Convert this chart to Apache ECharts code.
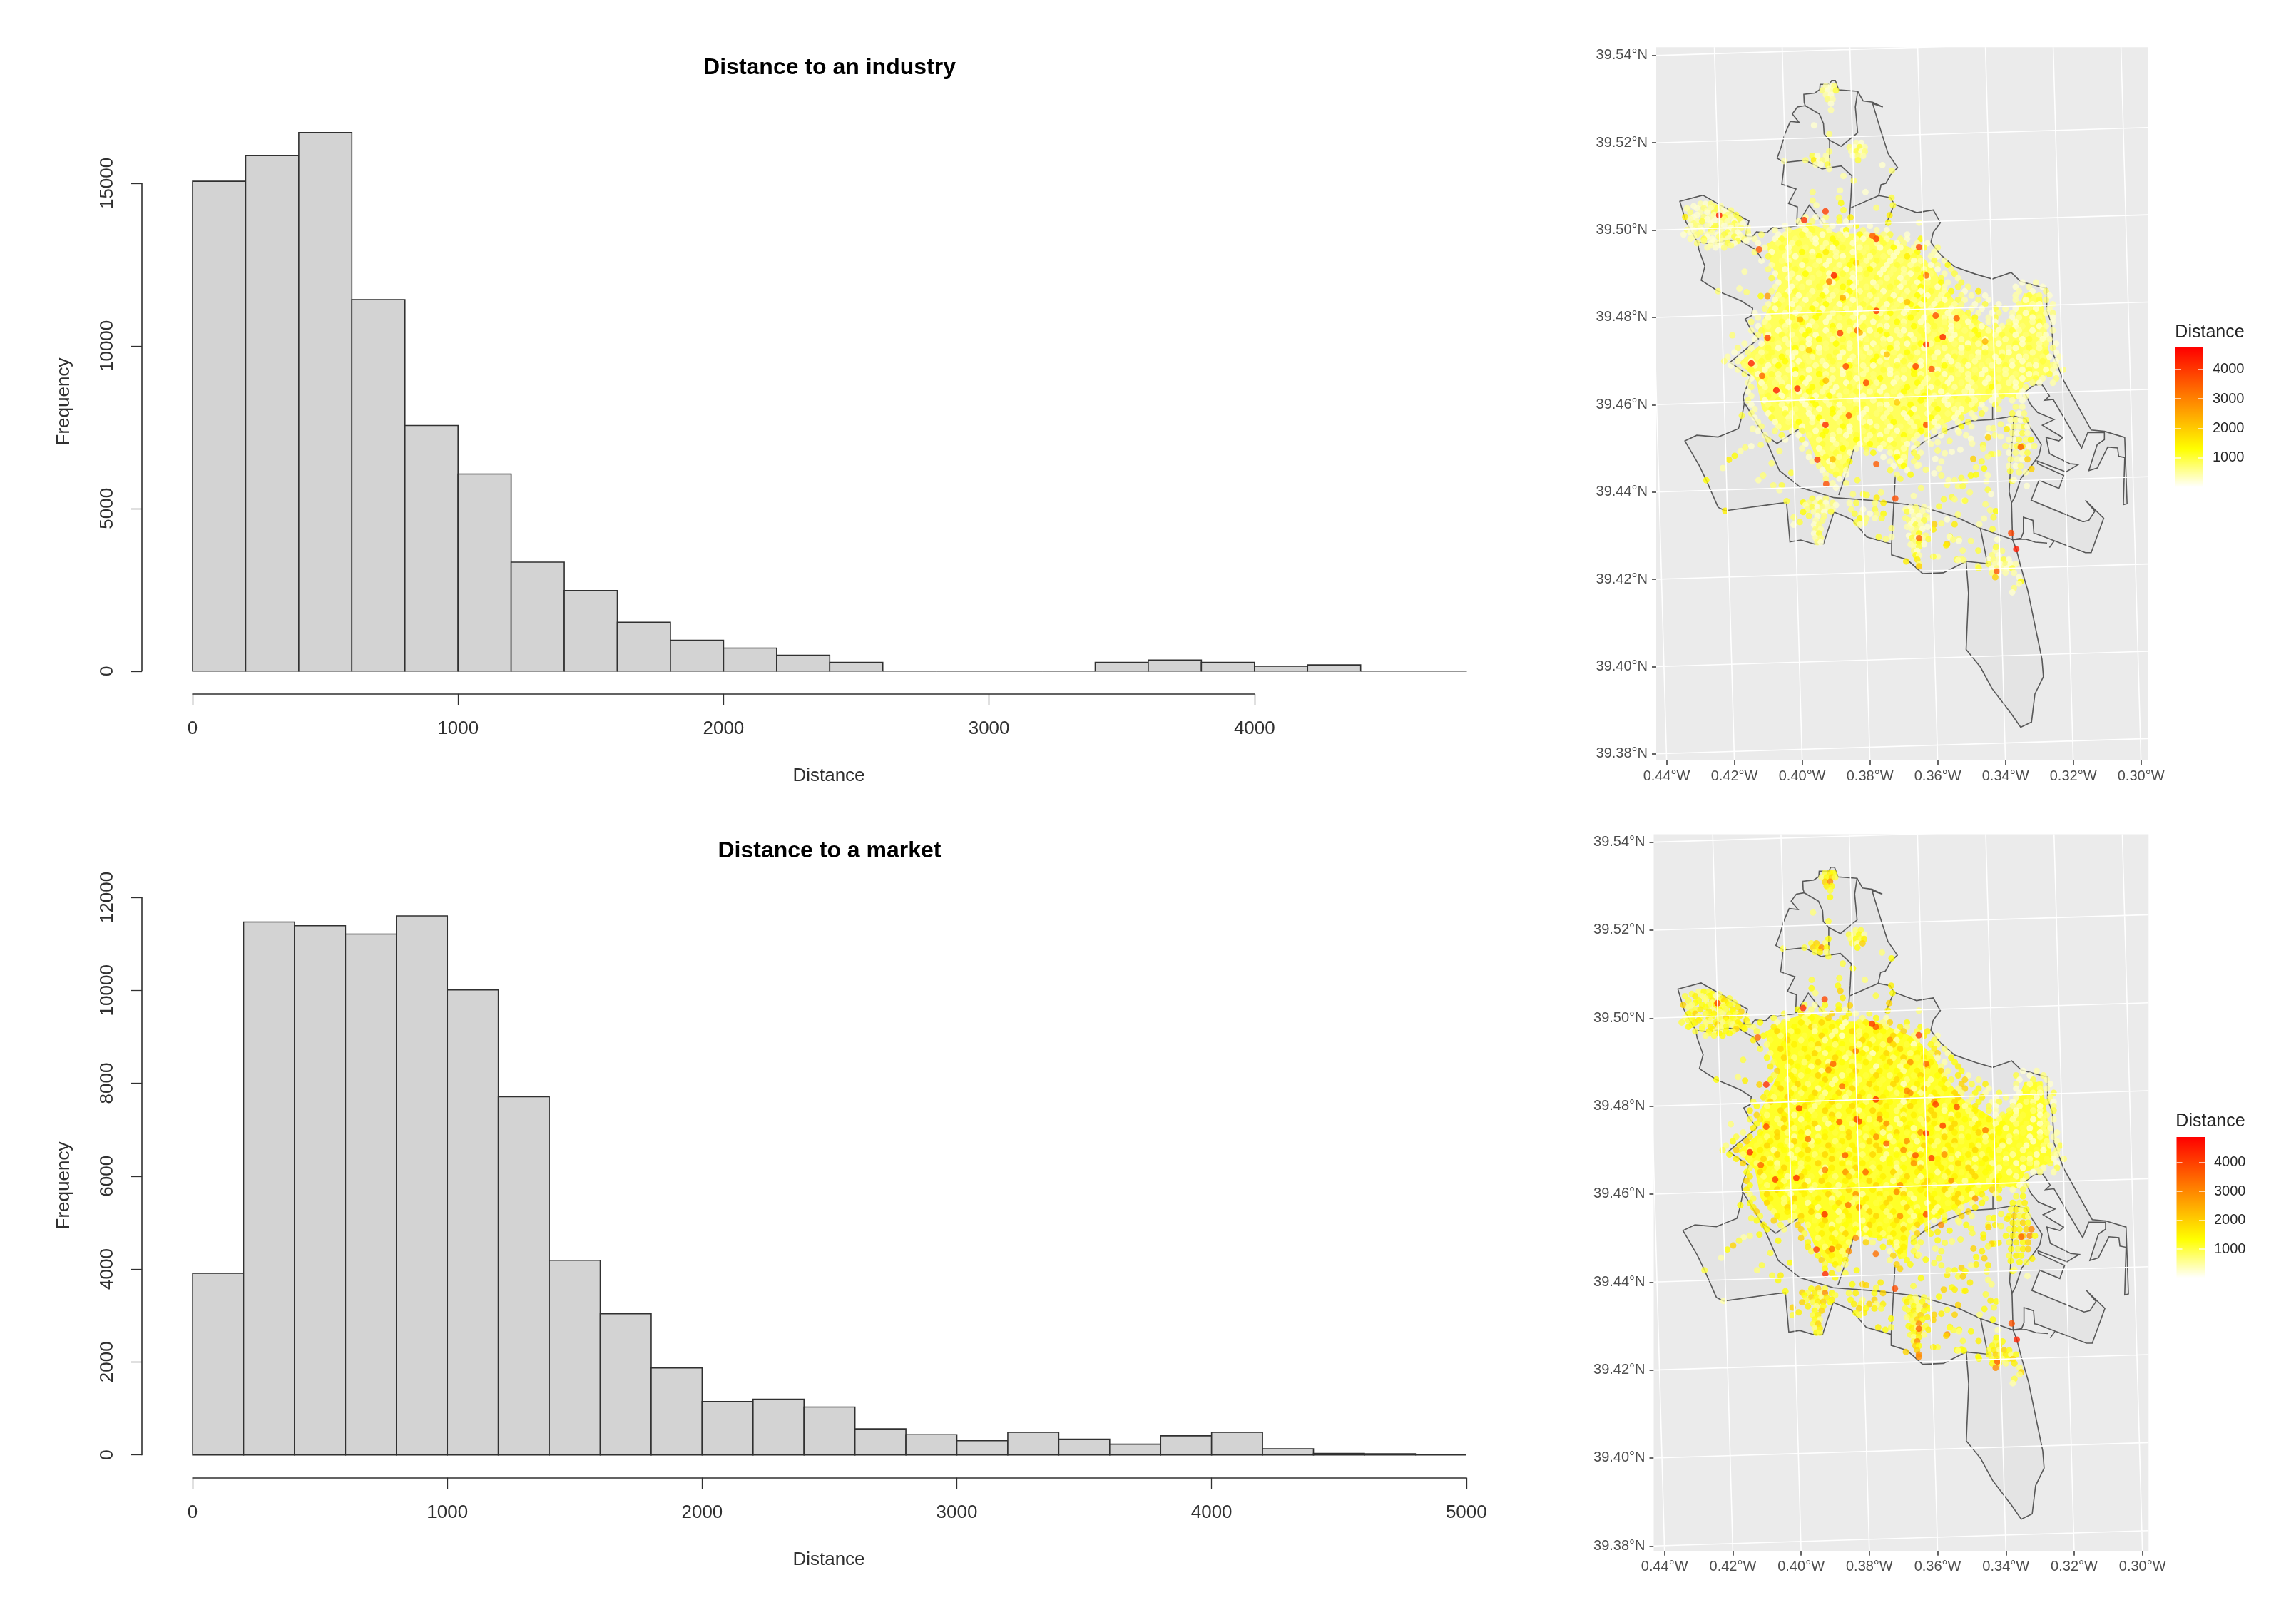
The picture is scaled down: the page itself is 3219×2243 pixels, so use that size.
<!DOCTYPE html>
<html>
<head>
<meta charset="utf-8">
<title>Distance histograms and maps</title>
<style>
html, body { margin: 0; padding: 0; background: #fff; }
#main { width: 3219px; height: 2243px; }
</style>
<script src="https://cdn.jsdelivr.net/npm/echarts@6/dist/echarts.min.js"></script>
</head>
<body>
<div id="main"></div>
<script>
// histogram counts, one value per 200 wide bin starting at 0
var industryCounts = [15060, 15860, 16560, 11420, 7550, 6060, 3350, 2480, 1500, 950, 710, 490, 270, 0, 0, 0, 0, 270, 340, 270, 150, 190, 0, 0];
var marketCounts = [3910, 11470, 11390, 11210, 11600, 10010, 7710, 4190, 3040, 1870, 1150, 1200, 1030, 560, 435, 305, 485, 340, 230, 410, 485, 130, 30, 25, 0];
var binWidth = 200;

var lonTicks = [-0.44, -0.42, -0.40, -0.38, -0.36, -0.34, -0.32, -0.30];
var latTicks = [39.38, 39.40, 39.42, 39.44, 39.46, 39.48, 39.50, 39.52, 39.54];
var legendTicks = [1000, 2000, 3000, 4000];

// map outline, [lon, lat]
var cityOutline = [[-.3902,39.5343],[-.3913,39.5343],[-.3919,39.5334],[-.3947,39.5334],[-.3948,39.5322],[-.3963,39.5314],[-.3995,39.5311],[-.3994,39.5293],[-.3991,39.5285],[-.4014,39.5282],[-.4029,39.5266],[-.4009,39.5247],[-.4035,39.5249],[-.4051,39.522],[-.4062,39.519],[-.4074,39.5165],[-.4053,39.5155],[-.4055,39.5136],[-.406,39.5105],[-.4018,39.5094],[-.404,39.5061],[-.4014,39.5053],[-.4016,39.501],[-.4069,39.5004],[-.4088,39.5006],[-.4104,39.4994],[-.4135,39.4996],[-.4146,39.4985],[-.4168,39.4986],[-.4157,39.5021],[-.4189,39.5034],[-.4293,39.508],[-.4361,39.5066],[-.4343,39.5019],[-.4308,39.4971],[-.4305,39.4956],[-.4287,39.4917],[-.4298,39.4885],[-.4248,39.486],[-.4178,39.4837],[-.4146,39.4821],[-.4149,39.4804],[-.4168,39.4796],[-.415,39.477],[-.4129,39.4751],[-.4213,39.4697],[-.4153,39.4665],[-.4174,39.4618],[-.4171,39.4601],[-.4178,39.4573],[-.4188,39.4545],[-.4248,39.4526],[-.4311,39.453],[-.4346,39.4517],[-.4304,39.4461],[-.4283,39.4427],[-.4248,39.4365],[-.4227,39.4357],[-.4067,39.4374],[-.4046,39.4376],[-.4036,39.4286],[-.4004,39.429],[-.3965,39.4281],[-.3937,39.4281],[-.3906,39.4354],[-.3853,39.4337],[-.3809,39.4297],[-.3736,39.4281],[-.3736,39.4256],[-.369,39.4245],[-.3644,39.4213],[-.3583,39.4215],[-.3516,39.4241],[-.3509,39.4168],[-.3516,39.4039],[-.3474,39.3999],[-.3439,39.3949],[-.3383,39.3892],[-.3355,39.3861],[-.3323,39.3873],[-.3313,39.3937],[-.3288,39.3977],[-.3292,39.4016],[-.3334,39.4174],[-.3355,39.423],[-.3368,39.4269],[-.3379,39.4291],[-.3354,39.4294],[-.3347,39.4308],[-.3347,39.4342],[-.3319,39.4335],[-.3316,39.4305],[-.3308,39.4304],[-.3164,39.4261],[-.3147,39.4261],[-.311,39.434],[-.3164,39.4381],[-.3136,39.4356],[-.3154,39.4335],[-.3171,39.4332],[-.3324,39.4381],[-.3301,39.4427],[-.3242,39.4408],[-.3228,39.4438],[-.3305,39.4465],[-.3306,39.4471],[-.3221,39.4446],[-.3185,39.4463],[-.321,39.4465],[-.327,39.4488],[-.328,39.4525],[-.3242,39.4517],[-.3231,39.4525],[-.3291,39.4553],[-.3256,39.4566],[-.3305,39.4582],[-.3326,39.4601],[-.3344,39.4628],[-.3316,39.4645],[-.3291,39.4645],[-.327,39.462],[-.3284,39.461],[-.3259,39.4612],[-.3175,39.4501],[-.3157,39.4536],[-.3108,39.4536],[-.3108,39.452],[-.3129,39.4509],[-.3154,39.4449],[-.3129,39.4455],[-.3098,39.4503],[-.3069,39.4501],[-.3066,39.4482],[-.3048,39.4479],[-.3052,39.4371],[-.3041,39.4373],[-.3048,39.4525],[-.3108,39.4539],[-.3147,39.4542],[-.3231,39.4659],[-.3258,39.4714],[-.3264,39.4787],[-.3278,39.4815],[-.3278,39.4866],[-.3355,39.4882],[-.3383,39.4903],[-.3439,39.4888],[-.3488,39.4899],[-.355,39.4916],[-.3592,39.4944],[-.362,39.4972],[-.3613,39.4995],[-.3592,39.5017],[-.3613,39.5046],[-.3662,39.504],[-.3728,39.5059],[-.3739,39.5074],[-.3774,39.5079],[-.3767,39.5104],[-.3753,39.5107],[-.3736,39.513],[-.3718,39.5143],[-.3746,39.5175],[-.3767,39.5226],[-.3792,39.529],[-.3762,39.5282],[-.3792,39.5293],[-.382,39.5296],[-.3836,39.5318],[-.3892,39.5321]];

// district and road lines inside the outline
var innerLines = [
    [[-.3991,39.5285],[-.3949,39.5266],[-.3937,39.5244],[-.3935,39.522],[-.3919,39.5206],[-.3885,39.5192],[-.3836,39.5223],[-.3843,39.5282],[-.3836,39.5318]],
    [[-.4053,39.5155],[-.399,39.516],[-.3941,39.514],[-.3919,39.5143],[-.3885,39.5147],[-.3853,39.5124],[-.3856,39.5074],[-.3862,39.5012]],
    [[-.3919,39.5206],[-.3919,39.5143]],
    [[-.3856,39.5051],[-.3774,39.5079]],
    [[-.3728,39.5059],[-.3753,39.5012]],
    [[-.4308,39.4971],[-.4294,39.4971],[-.427,39.4969],[-.4217,39.4977],[-.4182,39.4976],[-.4139,39.4956],[-.4118,39.4933]],
    [[-.4016,39.501],[-.3979,39.5057],[-.3937,39.5015]],
    [[-.4171,39.4605],[-.4115,39.4534],[-.4067,39.4449],[-.4004,39.441],[-.3906,39.4387],[-.3781,39.438],[-.3655,39.4368],[-.3543,39.4342],[-.3474,39.4317],[-.3379,39.4291]],
    [[-.3474,39.4317],[-.3453,39.4236],[-.3516,39.4241]],
    [[-.3677,39.4492],[-.3641,39.4515],[-.3571,39.4542],[-.3502,39.4563],[-.3439,39.4566],[-.3375,39.4574],[-.334,39.4567],[-.3326,39.4547],[-.3294,39.4509],[-.3301,39.4484],[-.3326,39.4457],[-.3354,39.4432],[-.3372,39.4389],[-.3382,39.4375],[-.3389,39.44],[-.3386,39.4444],[-.3375,39.4574]],
    [[-.3382,39.4375],[-.3379,39.4291]],
    [[-.3438,39.4596],[-.3438,39.4566]],
    [[-.3725,39.4438],[-.3732,39.4337],[-.3736,39.4281]],
    [[-.3809,39.4618],[-.3857,39.4472],[-.3892,39.4393]],
    [[-.4115,39.4534],[-.4074,39.4511],[-.3976,39.4562]],
    [[-.3379,39.4291],[-.334,39.4292],[-.3312,39.4285],[-.3277,39.4283]],
    [[-.327,39.4273],[-.3256,39.4288]]
];

// where the listing points overlap into a solid mass, kept inside the points so they make the edge
var denseArea = [[-.4105,39.4968],[-.404,39.4998],[-.3969,39.5012],[-.3892,39.4992],[-.3781,39.4992],[-.3665,39.4955],[-.3612,39.4912],[-.3578,39.4865],[-.3525,39.4815],[-.3432,39.477],[-.3375,39.4795],[-.3345,39.4855],[-.3295,39.4855],[-.328,39.4787],[-.3272,39.4714],[-.3262,39.4672],[-.3345,39.465],[-.3362,39.4612],[-.3432,39.4622],[-.3502,39.4585],[-.3613,39.4545],[-.3685,39.4515],[-.369,39.4455],[-.3712,39.4452],[-.3745,39.4498],[-.3845,39.4505],[-.3885,39.4435],[-.3925,39.4445],[-.3962,39.4485],[-.3995,39.4545],[-.4065,39.454],[-.4118,39.459],[-.4135,39.4655],[-.4185,39.4697],[-.4112,39.4745],[-.412,39.4787],[-.4065,39.4877],[-.4095,39.493]];

// distance classes used by the two digit strings in the rows below
var distanceBins = [100, 250, 450, 700, 1000, 1300, 1500, 1900, 2900, 4200];

// rows of estimated points: lat, west longitude in 1/1000 degree, class on top map, class on bottom map
var denseRows = [
    [39.503,[399,396,393],'213','425'],
    [39.502,[401,397,394,389,387],'23141','53462'],
    [39.501,[405,400,398,393,391,386,384,380],'12431251','46237524'],
    [39.500,[408,404,399,397,392,388,387,382,378,375],'2314215321','4135746352'],
    [39.499,[412,407,405,400,398,394,389,387,383,381,376,374,369],'3124213152341','5246375146375'],
    [39.498,[414,408,406,402,397,396,391,388,384,382,377,375,371,369,365],'214321532142315','364573615473635'],
    [39.497,[413,407,403,401,396,393,390,385,383,378,376,372,370,366,363],'132412513241321','473625273652746'],
    [39.496,[411,406,404,399,394,391,388,383,381,377,373,371,367,364,360],'241321423151243','536472136475362'],
    [39.495,[414,409,404,400,397,393,390,385,382,379,374,372,368,366,361],'312516213421352','647352647382534'],
    [39.494,[410,405,402,397,395,390,388,383,380,376,373,369,367,362,360],'421352142316421','356473526374153'],
    [39.493,[412,406,404,399,395,392,388,385,381,378,374,371,367,365,361,358],'1324213524131242','4756354726374563'],
    [39.492,[409,404,400,396,393,389,386,382,379,375,372,368,366,362,360,357],'2413125321423135','3647253617536472'],
    [39.491,[410,405,402,398,394,390,387,383,380,376,373,370,366,364,360,356],'3142431251324213','5736472536374625'],
    [39.490,[408,403,399,395,392,388,385,381,377,374,370,368,364,362,358,355],'1253142413215324','4637253647384625'],
    [39.489,[409,404,401,397,392,390,385,383,378,375,371,369,365,363,359,354],'4213251342135142','6352746315264736'],
    [39.488,[407,402,398,394,391,386,384,379,377,372,370,366,363,359,357,353,335,331],'132415213421352412','735264736526473512'],
    [39.487,[408,403,400,395,393,388,385,381,378,374,371,367,365,360,358,354,351,337,333,329],'21342513241351243121','46375264736475362413'],
    [39.486,[409,404,402,397,393,390,386,383,379,376,372,369,365,362,358,356,352,348,336,332,328],'314213524132142516213','536472536473526473142'],
    [39.485,[407,405,401,398,394,391,387,384,380,377,373,370,366,363,359,357,353,350,346,337,333,330,327],'24135214231351243212431','64735263747162537463241'],
    [39.484,[408,406,402,399,395,392,388,385,381,378,374,371,367,364,360,358,354,352,348,345,337,334,330,328],'132142513241352142312143','473625374635274637521432'],
    [39.483,[410,407,403,400,396,393,389,386,382,379,375,372,368,365,361,359,355,353,349,346,342,336,332,330,326],'2413251342135214231413212','5463727364538264735241324'],
    [39.482,[411,408,404,401,397,394,390,387,383,380,376,373,369,366,362,360,356,354,350,347,343,340,337,333,331,327],'31425132142315241321421312','63746352736475264736132413'],
    [39.481,[414,409,405,402,398,395,391,388,384,381,377,374,370,367,363,361,357,355,351,348,344,342,338,334,332,328,326],'142135241325143213421321423','475263746375163847352413241'],
    [39.480,[413,410,405,403,399,396,392,389,385,382,378,375,371,368,364,362,358,356,352,349,345,343,338,336,332,330,326],'213425132142351421352412131','536472637546374635264132413'],
    [39.479,[415,411,406,404,400,397,393,391,386,383,379,376,372,370,365,362,358,356,351,349,345,343,339,337,332,330,326],'324152134213521432142131241','647353746275364725364241324'],
    [39.478,[413,410,405,402,398,396,391,389,384,382,377,375,370,367,363,361,356,354,350,347,343,341,337,335,330,328],'13241352142135241321421312','73625473647536472635142413'],
    [39.477,[415,412,407,405,400,398,393,391,386,384,380,377,372,370,365,363,359,356,352,349,345,342,338,336,332,329,326],'241325142315214231352142132','463725364738263746526324132'],
    [39.476,[413,410,406,403,399,396,392,389,385,382,378,375,371,368,364,361,357,355,350,348,343,341,337,334,330,328],'31425132413521432135241321','57364725364825364736253413'],
    [39.475,[414,409,405,402,398,395,391,388,383,381,376,374,369,367,362,360,356,353,349,346,342,340,335,333,329,327],'14231524132142351241321412','64736153647362537364524132'],
    [39.474,[417,412,407,404,400,398,393,390,386,383,379,376,372,369,365,362,358,355,351,348,344,342,337,335,330,328,325],'213241352413215243123141231','357362547362748536473524132'],
    [39.473,[419,415,410,407,402,400,395,393,388,386,381,378,374,372,367,364,360,358,353,351,346,344,339,337,333,330,326],'324152134213524132141321423','463725364738253647352634132'],
    [39.472,[420,416,412,409,404,402,397,395,390,388,383,380,376,373,369,366,362,360,355,353,348,346,341,339,334,332,328,325],'1324215241321352413214213241','5746372536475382637453624132'],
    [39.471,[422,418,413,410,406,403,399,397,392,389,385,382,378,375,371,368,364,361,357,355,350,348,343,341,336,334,329,327,324],'21345132412351243214321412312','36475263746372547364635241324'],
    [39.470,[423,419,415,412,408,405,401,398,394,391,386,384,379,377,372,370,365,363,358,356,352,349,345,342,338,335,331,329,325],'32142513241352141321423121341','47362537463647382536475342413'],
    [39.469,[421,417,414,410,407,403,400,396,393,389,386,382,379,375,372,368,365,361,358,354,351,347,344,340,338,333,331,326,325],'13215242135213421352132412132','53647263746372536482635424132'],
    [39.468,[419,415,411,409,404,402,398,395,391,388,384,381,376,374,370,367,362,360,356,353,349,346,342,340,335,333,328,326,323],'24132514213241352142313214123','64735264736425374635264132413'],
    [39.467,[417,413,409,407,402,400,395,393,388,386,382,379,374,372,367,365,360,358,354,351,347,344,340,337,333,331,327,325],'3142135214231352413214231241','7362537463645382647352413241'],
    [39.466,[415,411,407,405,400,398,393,391,386,384,379,377,372,370,365,363,359,356,351,349,345,342,338,335,331,329,325],'142351324135214231241321423','463735264736257463735241324'],
    [39.465,[416,412,408,406,401,399,394,392,387,385,380,378,373,371,366,364,360,357,353,350,346,343,339,337,332,330,326],'213241521342135241321421312','574636258364736526475324132'],
    [39.464,[415,411,406,404,400,397,393,390,386,383,379,376,372,369,365,362,358,355,351,349,344,342,337,334],'324135214231352142135213','635274637546372536473524'],
    [39.463,[416,412,407,405,401,398,394,391,387,384,380,377,373,370,366,363,359,356,352,350,345,343,338,335],'132415213421352413214231','746352746375263748253642'],
    [39.462,[415,410,406,403,399,396,392,389,385,382,378,375,371,368,364,361,357,355,350,348,343,341,336,334],'241321523142135214231412','536473625473847362536413'],
    [39.461,[416,411,407,404,400,397,393,390,386,384,379,377,372,370,365,362,358,356,351,349,344,342,338,335],'314215243124135213421321','647362537463526473647524'],
    [39.460,[415,410,406,403,399,396,392,389,384,382,377,375,370,368,363,361,357,354,350,347,343],'132415213421352413214','375264738264736537263'],
    [39.459,[414,409,405,402,398,395,391,388,384,381,377,374,370,367,362,360,355,353,349,346,342],'241321524132413521423','463746253647526473846'],
    [39.458,[415,410,405,403,398,396,391,389,385,382,378,375,370,368,363,361,357,354,350,347],'31421352413215243124','57362547364735264735'],
    [39.457,[414,409,404,402,397,395,390,388,383,381,376,374,369,366,362,360,355,353,349],'1423152413241352142','6473625483647362536'],
    [39.456,[413,408,404,401,397,394,389,387,382,380,375,373,368,366,361,359,354,351],'213521342135241324','736475264736352647'],
    [39.455,[412,407,402,400,395,393,388,386,381,378,374,371,367,365,360,358,353,350],'324132514213241352','463725364738265473'],
    [39.454,[413,408,403,400,396,393,389,386,382,379,375,372,368,365,361,358,354],'13241521342135241','57364735264736253'],
    [39.453,[411,406,401,398,394,391,387,384,380,377,373,370,366,363,359],'241352142135241','647362537463748'],
    [39.452,[410,405,400,395,391,388,384,381,377,374,370,367,363],'3142135241321','5374635264736'],
    [39.451,[399,394,390,387,383,380,376,373,369,366,362],'14231524132','46372536475'],
    [39.450,[400,395,391,388,384,381,377,374,370,367],'2135241321','7364825364'],
    [39.449,[398,394,390,386,381,379,374,372,367,365],'3241352142','5463736254'],
    [39.448,[398,393,389,387,376,372,370,366],'14231524','63745263'],
    [39.447,[397,392,388,386,374,371,367],'2135213','4738264'],
    [39.446,[395,391,387,373,370,366],'324152','563746'],
    [39.445,[394,390,387,374,369],'13241','74635'],
    [39.444,[393,390,387,372,368],'24135','46375'],
    [39.443,[393,389,371],'314','537'],
    [39.442,[391,387],'23','64'],
    [39.441,[390],'1','5']
];

var clusterRows = [
    // north west enclave
    [39.506,[430,428.5,427],'213','354'],
    [39.5055,[432,426,424],'132','453'],
    [39.505,[434,431,429,427,425],'21324','46352'],
    [39.5045,[428,423,421],'213','364'],
    [39.504,[433,430,428,426,424,422.5],'321421','453647'],
    [39.5035,[431,426,422,419.5],'1234','5364'],
    [39.503,[434.5,432,429,427,425,423,421],'6132142','7354635'],
    [39.5025,[433,428,423,418.5],'2134','3546'],
    [39.502,[431,429.5,426,424,422,420],'241321','463546'],
    [39.5015,[432,427,424,420,417.5],'31241','46357'],
    [39.501,[433,431,428,425.5,423,421,419],'1324132','5746354'],
    [39.5005,[430,426,421,418,416],'24132','35463'],
    [39.500,[434,432,429.5,427,424,422,420],'3214213','3546475'],
    [39.4995,[433,430,426.5,422,419,416],'132413','463546'],
    [39.499,[435,431,428,425,423,421,418.5],'1321421','4635346'],
    [39.4985,[432,428,424.5,420,418,415.5],'213421','537364'],
    [39.498,[433,429,426.5,424,422,419,417],'2413213','5463546'],
    [39.4975,[429,426,423.5,419,416.5],'31241','46375'],
    [39.497,[431,427,425,422,420],'31241','46354'],
    [39.4965,[427,424,421],'213','465'],
    [39.496,[428,425.5,423],'213','345'],
    // north clusters
    [39.533,[393,391.5,390.5],'213','465'],
    [39.532,[394,392.5,391,390],'3124','3574'],
    [39.531,[393,391.5],'21','78'],
    [39.530,[392.5,391],'32','65'],
    [39.529,[391.5],'1','4'],
    [39.5275,[391.5],'2','5'],
    [39.524,[396.5],'1','3'],
    [39.522,[392],'3','4'],
    [39.520,[384,382.5],'21','34'],
    [39.519,[386,384.5,383,381.5],'3142','4352'],
    [39.518,[385.5,384,382.5,381.5],'2413','3546'],
    [39.517,[385,383.5,382],'132','427'],
    [39.516,[383.5],'4','5'],
    [39.518,[392],'3','5'],
    [39.517,[397,395.5,393],'412','473'],
    [39.516,[399,396.5,395,394,392.5],'36132','47685'],
    [39.515,[396,394.5,392.5],'214','463'],
    [39.514,[392],'2','4'],
    [39.5158,[405.3],'2','4'],
    [39.5149,[376.3],'1','3'],
    [39.5136,[373.5],'3','5'],
    [39.5124,[387.8],'2','4'],
    [39.5113,[384.8],'3','5'],
    [39.5091,[388.8],'2','4'],
    [39.5087,[381.3,396.9],'13','34'],
    [39.5074,[389.2,373.6],'34','56'],
    [39.5068,[396.9],'3','5'],
    [39.5062,[388.5],'5','7'],
    [39.5057,[395.8,373.2],'24','35'],
    [39.5051,[378.1],'3','4'],
    [39.5046,[387.8],'4','6'],
    [39.5034,[374.2],'6','7'],
    [39.5029,[389,385.7],'46','57'],
    [39.5017,[374.6,365.5],'52','63'],
    // west of the mass
    [39.4905,[417],'2','4'],
    [39.4866,[418.5],'2','3'],
    [39.4860,[424.8],'3','5'],
    [39.4858,[416.4],'3','6'],
    [39.4849,[412.2],'5','7'],
    [39.4759,[420.6],'3','3'],
    // south west
    [39.4575,[417.8],'4','5'],
    [39.4545,[414.6],'2','4'],
    [39.4508,[412.2],'3','5'],
    [39.4505,[415],'1','3'],
    [39.4502,[416.8],'3','2'],
    [39.4494,[418.2,406.7],'23','45'],
    [39.4483,[419.9],'5','7'],
    [39.4474,[421.6],'6','5'],
    [39.4466,[409],'3','4'],
    [39.4455,[423.4],'2','2'],
    [39.4444,[403.2],'4','5'],
    [39.4438,[411.5],'3','4'],
    [39.4427,[428.3,412.9],'52','43'],
    [39.4415,[408.5,406],'34','46'],
    [39.4404,[406.7],'2','5'],
    [39.4379,[404.6],'4','5'],
    [39.4357,[422.7],'6','2'],
    [39.4342,[402.5],'3','7'],
    [39.4325,[402.5],'1','4'],
    // south cluster near the road
    [39.4385,[397,395,393],'413','574'],
    [39.4376,[399.7],'5','7'],
    [39.4375,[398,396,394.5,393,391],'32413','46385'],
    [39.437,[399,390],'21','54'],
    [39.4365,[397,395.5,394,392.5],'4132','7536'],
    [39.436,[398.5,391],'32','46'],
    [39.4355,[396.5,395,393.5,391.5],'2314','4675'],
    [39.4354,[399.7],'5','7'],
    [39.4345,[398,395.5,393.5],'413','635'],
    [39.4335,[396,394],'23','57'],
    [39.4331,[400.7],'4','6'],
    [39.4325,[396.5,395],'13','46'],
    [39.4315,[396,394.5],'32','53'],
    [39.4305,[396.5,395],'14','47'],
    [39.4295,[396,394.5],'23','36'],
    [39.4285,[395.5,394.5],'31','54'],
    // around -0.38
    [39.4427,[383.7],'4','5'],
    [39.4399,[376.7],'3','6'],
    [39.4395,[385,382],'34','57'],
    [39.4393,[380.9],'4','7'],
    [39.4387,[378],'6','4'],
    [39.4375,[386,384,378.5,376],'2436','4657'],
    [39.4360,[385.5,382,378.5],'314','537'],
    [39.4350,[384.5,382.5,380,378,376],'42135','64736'],
    [39.4340,[383,381,378.5,376.5],'5324','7564'],
    [39.4330,[384,381.5],'43','56'],
    [39.4325,[383],'2','4'],
    [39.4317,[373.6],'3','5'],
    [39.4297,[377.4,373.6],'42','64'],
    [39.4292,[375.3],'3','5'],
    // column at -0.366
    [39.4365,[368,366.5,364],'132','534'],
    [39.436,[369.5,362.5],'21','43'],
    [39.4355,[369,367.5,366,364.5],'4132','6435'],
    [39.4345,[367,365.5,363.5],'213','537'],
    [39.434,[369.5,362.5],'32','45'],
    [39.4335,[368.5,367,365.5,364],'3124','4635'],
    [39.4325,[368,366.5,365],'142','547'],
    [39.432,[369,363],'21','36'],
    [39.4315,[367.5,366,364.5],'231','475'],
    [39.4305,[367,365.5],'35','48'],
    [39.430,[368.5,363.5],'13','54'],
    [39.4295,[367.5,366,364.5],'412','634'],
    [39.4285,[367,365.5],'35','57'],
    [39.428,[368,364],'21','43'],
    [39.4275,[367,365.5],'24','36'],
    [39.4265,[367,366],'31','48'],
    [39.4255,[366.5,365.5],'52','75'],
    [39.4245,[366],'6','7'],
    [39.4235,[365.5],'3','8'],
    [39.4326,[355,361],'67','77'],
    [39.4314,[361.3],'6','7'],
    [39.4298,[356.4],'5','6'],
    [39.4292,[353.7,362.7],'34','56'],
    [39.4281,[357.2],'7','8'],
    [39.4252,[360,361.3],'24','46'],
    [39.4247,[353],'3','5'],
    [39.4245,[354.4],'4','5'],
    [39.4241,[369.3],'6','7'],
    [39.4230,[348.1,365.5],'37','58'],
    // cluster at -0.34
    [39.4265,[343,341],'23','45'],
    [39.4255,[344,342],'31','56'],
    [39.4245,[345,343.5,342,340.5,339],'13241','46375'],
    [39.4235,[345,343,341.5,340,338.5,337],'421312','574635'],
    [39.4225,[344,342.5,341,339.5,338],'13214','46357'],
    [39.4215,[344,342,340,337.5],'3122','5436'],
    [39.4205,[343,336],'71','83'],
    [39.4195,[335.5],'5','7'],
    [39.4190,[336],'2','3'],
    [39.4180,[337.5],'3','4'],
    [39.4170,[338],'1','2'],
    // east patch
    [39.4595,[337,335],'32','45'],
    [39.458,[338,336,334.5],'413','546'],
    [39.4565,[338.5,337,335.5,334],'2314','4635'],
    [39.455,[339,337.5,336,334.5,333.5],'13241','57463'],
    [39.4535,[338,336.5,335,333.5],'3142','6475'],
    [39.452,[339,337.5,336,334,332.5],'21435','46578'],
    [39.4505,[340,338,336.5,335,333,331.5],'324613','564785'],
    [39.449,[339,337,335,333.5],'1324','4657'],
    [39.4475,[338.5,336.5,335,333.5],'3217','5467'],
    [39.446,[339,337,335.5],'213','465'],
    [39.4445,[336,334],'32','54'],
    [39.4425,[338],'4','5'],
    // open area south of the mass
    [39.4555,[341.4],'3','4'],
    [39.4546,[344.9,343.5],'23','45'],
    [39.4544,[339.6],'6','6'],
    [39.4536,[353.7],'2','3'],
    [39.4530,[351.6,345.2,343.1],'213','546'],
    [39.4527,[341.4],'2','4'],
    [39.4525,[345.1],'7','7'],
    [39.4522,[350.2],'1','4'],
    [39.4517,[356.5],'3','5'],
    [39.4514,[360],'2','6'],
    [39.4511,[349.8],'2','4'],
    [39.4508,[346.6],'4','5'],
    [39.4500,[346.6],'3','6'],
    [39.4497,[353.3],'1','4'],
    [39.4495,[360],'3','5'],
    [39.4492,[355.8],'1','3'],
    [39.4489,[357.9,342.1],'23','46'],
    [39.4487,[343.5,344.2],'34','57'],
    [39.4481,[345.2],'3','4'],
    [39.4476,[360.7,349.5],'17','37'],
    [39.4470,[358.9,347],'24','46'],
    [39.4462,[365.6],'2','3'],
    [39.4457,[348.7],'3','5'],
    [39.4454,[359.6,346.3],'25','47'],
    [39.4453,[332.3],'7','6'],
    [39.4451,[363.5],'3','5'],
    [39.4448,[338.6],'4','5'],
    [39.4443,[361],'1','4'],
    [39.4440,[348.7],'5','6'],
    [39.4438,[358.9,345.2,350.2],'325','463'],
    [39.4432,[353],'4','7'],
    [39.4428,[337.5],'1','3'],
    [39.4427,[356.8,355],'23','45'],
    [39.4424,[351.9,345.6],'32','54'],
    [39.4416,[357.2],'3','6'],
    [39.4414,[333.7],'1','2'],
    [39.4413,[354,352.6],'34','47'],
    [39.4409,[364.9],'3','5'],
    [39.4405,[345.2],'4','3'],
    [39.4399,[350.5],'3','6'],
    [39.4395,[344.2],'1','3'],
    [39.4391,[367.1],'2','4'],
    [39.4388,[355.8],'4','5'],
    [39.4383,[355,358.2],'34','67'],
    [39.4380,[352.3,351.9],'24','46'],
    [39.4372,[345.9],'3','4'],
    [39.4367,[359.6],'4','5'],
    [39.4358,[344.5],'3','6'],
    [39.4356,[342.8],'5','5'],
    [39.4348,[354],'3','7'],
    [39.4342,[343.5],'4','4'],
    [39.4339,[346.3],'2','5'],
    [39.4337,[357.2],'1','4'],
    [39.4328,[358.9],'3','6'],
    [39.4326,[347.7],'2','3'],
    [39.4315,[343.8],'4','5'],
    [39.4297,[356.5],'1','4'],
    [39.4291,[355.4,342.4],'31','42'],
    [39.4288,[353.7,350.2],'13','35'],
    [39.4278,[357.5],'6','7'],
    [39.4274,[342.8],'4','5'],
    [39.4266,[352.6,348],'34','46'],
    [39.4244,[354,352.3],'23','35'],
    [39.4226,[347.9],'4','5']
];

// the far away points that stand out: lat, west longitude, distance on top map, distance on bottom map
var farSpots = [[39.5034,424.5,4300,4000],[39.5043,393.1,3900,3900],[39.5023,399.4,4100,4300],[39.498,378.1,4000,3700],[39.4987,379.2,3600,4200],[39.4896,390.6,4400,3600],[39.4882,392,3200,2800],[39.4961,365.5,3800,4000],[39.4896,363.4,3300,3500],[39.4815,378.1,4100,4300],[39.4804,360.6,3700,4000],[39.4798,354.4,3500,3800],[39.4764,388.8,3900,3600],[39.477,383.7,3400,3900],[39.4738,363.4,4100,4200],[39.4755,358.5,4300,4100],[39.4695,415,4300,4300],[39.4666,411.8,3400,3500],[39.4688,387.1,3800,3700],[39.4688,366.5,3900,3800],[39.4682,361.8,3600,4100],[39.4633,407.6,4400,4000],[39.4637,401.4,4200,4300],[39.465,381.1,3800,3500],[39.4554,393.1,4200,4300],[39.4575,386.2,3500,3300],[39.4554,363.4,3800,3900],[39.4474,395.5,3900,4000],[39.4464,378.1,3500,3300],[39.4418,392.9,3700,4300],[39.4385,372.5,3700,3800],[39.4306,338.3,3800,3700],[39.4269,336.8,4400,4400],[39.4219,342.5,3600,3600],[39.4503,335.5,3500,3500],[39.4956,412.7,3600,3400],[39.4753,410.2,3900,3800],[39.4849,410.2,2600,4200],[39.4294,365.5,3400,3500],[39.4795,400.6,2200,4000],[39.4845,388,2400,3400],[39.4765,383,2300,3900],[39.4725,398,2000,3300],[39.4925,384,1900,3200],[39.4715,375,2100,3600],[39.4655,393,2200,3100],[39.4605,372,2000,3000],[39.4745,346,2300,3200],[39.4835,369,2100,3100],[39.4475,391,2200,3300]];

// colours of the legend bar from its low end to its high end
var colorRamp = ['#ffffff', '#ffffaa', '#ffff55', '#ffff00', '#ffdf00', '#ffbf00', '#ff9f00', '#ff8000', '#ff6000', '#ff4000', '#ff2000', '#ff0000'];

var TEXT_FONT = 'Liberation Sans, Arial, sans-serif';

function buildSpots(classIndex, farIndex, fallback) {
    var out = [];
    denseRows.concat(clusterRows).forEach(function(row) {
        row[1].forEach(function(west, i) {
            var cls = row[classIndex][i] === undefined ? fallback : +row[classIndex][i];
            out.push([-west / 1000, row[0], distanceBins[cls]]);
        });
    });
    farSpots.forEach(function(s) {
        out.push([-s[1] / 1000, s[0], s[farIndex]]);
    });
    return out;
}

function histBars(counts) {
    return counts.map(function(c, i) {
        return [i * binWidth, (i + 1) * binWidth, c];
    });
}

function renderBin(params, api) {
    var a = api.coord([api.value(0), api.value(2)]);
    var b = api.coord([api.value(1), 0]);
    return {
        type: 'rect',
        shape: { x: a[0], y: a[1], width: b[0] - a[0], height: b[1] - a[1] },
        style: { fill: '#d3d3d3', stroke: '#303030', lineWidth: 1.6 }
    };
}

function shapeSeries(type, points, style, axisIndex) {
    return {
        type: 'custom',
        xAxisIndex: axisIndex,
        yAxisIndex: axisIndex,
        silent: true,
        data: [0],
        renderItem: function(params, api) {
            return {
                type: type,
                shape: { points: points.map(function(p) { return api.coord(p); }) },
                style: style
            };
        }
    };
}

function graticule(axisIndex, xRange, yRange) {
    var pts = [];
    // the graticule of the projection leans a little, lon and lat name where a line meets the axis
    lonTicks.forEach(function(lon) {
        pts.push([lon, yRange[0]], [lon - 0.0059, yRange[1]], ['-', '-']);
    });
    latTicks.forEach(function(lat) {
        pts.push([xRange[0], lat], [xRange[1], lat + 0.0035], ['-', '-']);
    });
    return {
        type: 'line',
        xAxisIndex: axisIndex,
        yAxisIndex: axisIndex,
        silent: true,
        symbol: 'none',
        connectNulls: false,
        lineStyle: { color: '#ffffff', width: 1.6 },
        data: pts
    };
}

function mapSeries(axisIndex, xRange, yRange, massColor, spots) {
    var list = [graticule(axisIndex, xRange, yRange)];
    list.push(shapeSeries('polygon', cityOutline, { fill: '#e4e4e4', stroke: '#585858', lineWidth: 1.6 }, axisIndex));
    innerLines.forEach(function(line) {
        list.push(shapeSeries('polyline', line, { fill: null, stroke: '#585858', lineWidth: 1.6 }, axisIndex));
    });
    list.push(shapeSeries('polygon', denseArea, { fill: massColor }, axisIndex));
    list.push({
        type: 'scatter',
        xAxisIndex: axisIndex,
        yAxisIndex: axisIndex,
        silent: true,
        symbolSize: 9,
        data: spots
    });
    return list;
}

function mapAxes(xRange, yRange, index) {
    var tick = { show: true, length: 6, lineStyle: { color: '#333333', width: 1.5 } };
    var label = { color: '#4d4d4d', fontFamily: TEXT_FONT, fontSize: 20 };
    return {
        x: {
            type: 'value', gridIndex: index, min: xRange[0], max: xRange[1], position: 'bottom',
            axisLine: { show: false }, splitLine: { show: false },
            axisTick: Object.assign({ customValues: lonTicks }, tick),
            axisLabel: Object.assign({
                customValues: lonTicks, margin: 12,
                formatter: function(v) { return Math.abs(v).toFixed(2) + '°W'; }
            }, label)
        },
        y: {
            type: 'value', gridIndex: index, min: yRange[0], max: yRange[1], position: 'left',
            axisLine: { show: false }, splitLine: { show: false },
            axisTick: Object.assign({ customValues: latTicks }, tick),
            axisLabel: Object.assign({
                customValues: latTicks, margin: 12, padding: [3, 0, 0, 0],
                formatter: function(v) { return v.toFixed(2) + '°N'; }
            }, label)
        }
    };
}

function plainNumber(v) {
    return String(v);
}

function histAxes(index, xMax, yMax, yStep) {
    var line = { show: true, onZero: false, lineStyle: { color: '#303030', width: 1.6 } };
    var tick = { show: true, length: 16, lineStyle: { color: '#303030', width: 1.3 } };
    return {
        x: {
            type: 'value', gridIndex: index, min: 0, max: xMax, interval: 1000, position: 'bottom', offset: 32,
            axisLine: line, axisTick: tick, splitLine: { show: false },
            axisLabel: { color: '#303030', fontFamily: TEXT_FONT, fontSize: 26, margin: 36, showMaxLabel: true, showMinLabel: true, formatter: plainNumber }
        },
        y: {
            type: 'value', gridIndex: index, min: 0, max: yMax, interval: yStep, position: 'left', offset: 71,
            axisLine: line, axisTick: tick, splitLine: { show: false },
            axisLabel: { color: '#303030', fontFamily: TEXT_FONT, fontSize: 26, rotate: 90, margin: 35, showMaxLabel: true, showMinLabel: true, formatter: plainNumber }
        }
    };
}

function legendParts(index, firstY, max) {
    var tick = { show: true, inside: true, length: 8, customValues: legendTicks, lineStyle: { color: '#ffffff', width: 1.5, opacity: 0.85 } };
    return {
        x: { type: 'category', gridIndex: index, data: ['Distance'], show: false },
        y: [{
            type: 'value', gridIndex: index, min: 0, max: max, position: 'right', z: 5,
            axisLine: { show: false }, splitLine: { show: false }, axisTick: tick,
            axisLabel: { customValues: legendTicks, margin: 13, padding: [5, 0, 0, 0], color: '#262626', fontFamily: TEXT_FONT, fontSize: 20, formatter: plainNumber }
        }, {
            type: 'value', gridIndex: index, min: 0, max: max, position: 'left', z: 5,
            axisLine: { show: false }, splitLine: { show: false }, axisTick: tick,
            axisLabel: { show: false }
        }],
        series: {
            type: 'bar',
            xAxisIndex: index,
            yAxisIndex: firstY,
            barWidth: '100%',
            silent: true,
            data: [max],
            itemStyle: {
                color: new echarts.graphic.LinearGradient(0, 1, 0, 0, colorRamp.map(function(c, i) {
                    return { offset: i / (colorRamp.length - 1), color: c };
                }))
            }
        }
    };
}

function axisText(text, x, y, opts) {
    return {
        type: 'text',
        x: x,
        y: y,
        rotation: opts && opts.rotation || 0,
        silent: true,
        style: {
            text: text,
            align: 'center',
            verticalAlign: 'middle',
            fill: opts && opts.fill || '#303030',
            font: (opts && opts.size || 26) + 'px ' + TEXT_FONT
        }
    };
}

var chart = echarts.init(document.getElementById('main'));

var topX = [-0.44307, -0.29803], topY = [39.3785, 39.5419];
var botX = [-0.44318, -0.2982], botY = [39.3788, 39.5418];
var TOP_MAX = 4745, BOT_MAX = 4879;

var hist1 = histAxes(0, 4000, 15000, 5000);
var hist2 = histAxes(1, 5000, 12000, 2000);
var map1 = mapAxes(topX, topY, 2);
var map2 = mapAxes(botX, botY, 3);
var legend1 = legendParts(4, 4, TOP_MAX);
var legend2 = legendParts(5, 6, BOT_MAX);

var series = [
    { type: 'custom', name: 'Distance to an industry', xAxisIndex: 0, yAxisIndex: 0, silent: true, renderItem: renderBin, encode: { x: [0, 1], y: 2 }, data: histBars(industryCounts) },
    { type: 'custom', name: 'Distance to a market', xAxisIndex: 1, yAxisIndex: 1, silent: true, renderItem: renderBin, encode: { x: [0, 1], y: 2 }, data: histBars(marketCounts) }
];
series = series.concat(mapSeries(2, topX, topY, '#ffff5c', buildSpots(2, 2, 2)));
var topSpotIndex = series.length - 1;
series = series.concat(mapSeries(3, botX, botY, '#ffff28', buildSpots(3, 3, 5)));
var botSpotIndex = series.length - 1;
series.push(legend1.series, legend2.series);

chart.setOption({
    animation: false,
    backgroundColor: '#ffffff',
    title: [
        { text: 'Distance to an industry', left: 1158, top: 74, textAlign: 'center', textStyle: { color: '#000', fontFamily: TEXT_FONT, fontWeight: 'bold', fontSize: 32 } },
        { text: 'Distance to a market', left: 1158, top: 1172, textAlign: 'center', textStyle: { color: '#000', fontFamily: TEXT_FONT, fontWeight: 'bold', fontSize: 32 } }
    ],
    grid: [
        { left: 270, top: 256.9, width: 1488.8, height: 683.9 },
        { left: 270.1, top: 1258, width: 1785.7, height: 781.6 },
        { left: 2322, top: 66.2, width: 689, height: 999.8, show: true, backgroundColor: '#ebebeb', borderWidth: 0 },
        { left: 2318.5, top: 1169.5, width: 693.8, height: 1005.2, show: true, backgroundColor: '#ebebeb', borderWidth: 0 },
        { left: 3050, top: 487, width: 39, height: 196 },
        { left: 3051.5, top: 1593.9, width: 39.5, height: 197.6 }
    ],
    xAxis: [hist1.x, hist2.x, map1.x, map2.x, legend1.x, legend2.x],
    yAxis: [hist1.y, hist2.y, map1.y, map2.y, legend1.y[0], legend1.y[1], legend2.y[0], legend2.y[1]],
    visualMap: [
        { show: false, seriesIndex: topSpotIndex, dimension: 2, min: 0, max: TOP_MAX, inRange: { color: colorRamp } },
        { show: false, seriesIndex: botSpotIndex, dimension: 2, min: 0, max: BOT_MAX, inRange: { color: colorRamp } }
    ],
    graphic: [
        axisText('Distance', 1162, 1088),
        axisText('Distance', 1162, 2187),
        axisText('Frequency', 90, 563, { rotation: Math.PI / 2 }),
        axisText('Frequency', 90, 1662, { rotation: Math.PI / 2 }),
        axisText('Distance', 3098, 466, { size: 25, fill: '#262626' }),
        axisText('Distance', 3099, 1572, { size: 25, fill: '#262626' })
    ],
    series: series
});
</script>
</body>
</html>
